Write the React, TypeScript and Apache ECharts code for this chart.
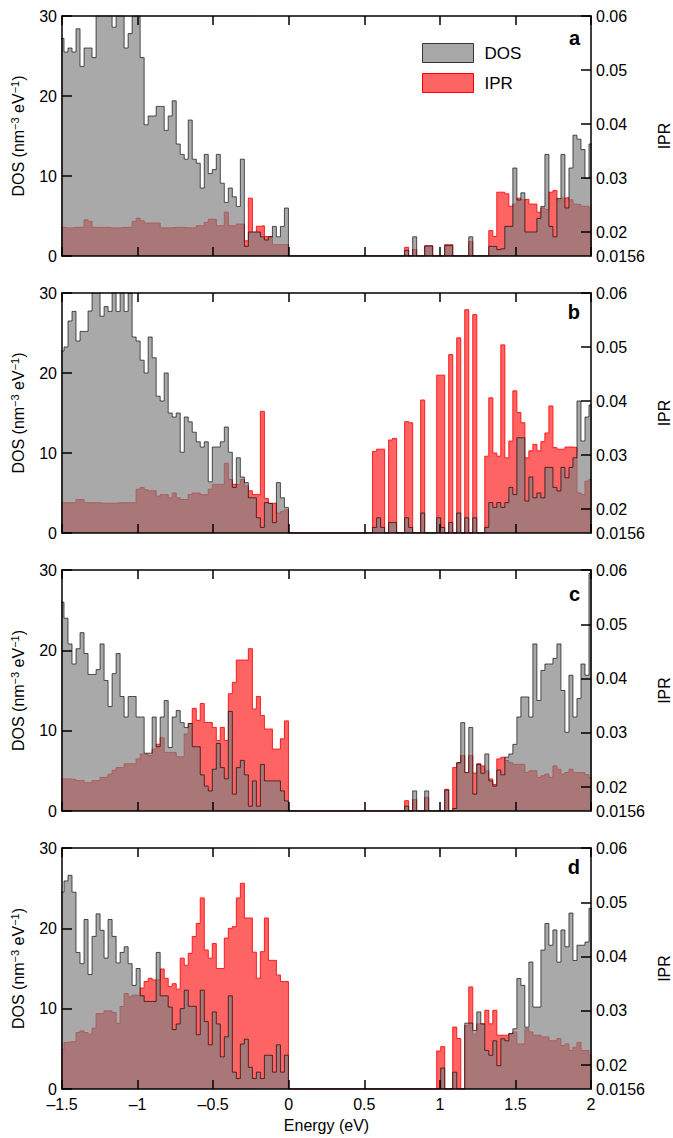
import React, { useEffect, useRef } from 'react';
import * as echarts from 'echarts';

// ---- histogram bin grid (bin centres from -1.5 to 2 eV) ----
const X_MIN = -1.5;
const X_MAX = 2;
const BIN_W = 3.5 / 132;
const VALENCE_BINS = 57; // bins 0..56
const CONDUCTION_START = 78; // bins 78..132
const TOTAL_BINS = 133;

const xTickLabels = ['–1.5', '–1', '–0.5', '0', '0.5', '1', '1.5', '2'];
const iprTickValues = [0.02, 0.03, 0.04, 0.05, 0.06];
const iprLabelValues = [0.0156, 0.02, 0.03, 0.04, 0.05, 0.06];
const panelLabels = ['a', 'b', 'c', 'd'];

// ---- panel a ----
const dosA_val = [27.2, 25.5, 26.0, 25.5, 28.4, 23.7, 26.0, 26.0, 24.8, 32, 33, 33, 31, 28.6, 33, 32, 26.0, 27.8, 30, 31, 24.8, 16.4, 17.5, 17.5, 18.7, 18.7, 15.7, 17.5, 19.4, 14, 12.7, 12.1, 17, 12.1, 11.6, 8.5, 12.7, 10.3, 10.8, 12.7, 9.1, 6.7, 8.5, 7.4, 6.2, 12.1, 1.2, 3.0, 3, 3, 2.4, 2, 2.4, 3.7, 2.4, 3.7, 6];
const iprA_val = [0.0209, 0.0208, 0.0208, 0.0209, 0.0209, 0.0209, 0.0223, 0.0220, 0.0209, 0.0209,
  0.0209, 0.0209, 0.0208, 0.0208, 0.0208, 0.0209, 0.0209, 0.0209, 0.0220, 0.0226,
  0.0221, 0.0217, 0.0217, 0.0217, 0.0217, 0.0208, 0.0208, 0.0208, 0.0209, 0.0209,
  0.0209, 0.0208, 0.0208, 0.0208, 0.0212, 0.0212, 0.0218, 0.0224, 0.0224, 0.0212,
  0.0212, 0.0237, 0.0212, 0.0212, 0.0215, 0.0215, 0.0184, 0.0263, 0.0200, 0.0211,
  0.0212, 0.0192, 0.0192, 0.0177, 0.0177, 0.0177, 0.0177];
const dosA_cond = [0, 0, 0, 0, 0, 0, 0, 0, 0.7, 0, 2.4, 0, 0, 1.25, 1.25, 0, 0, 0, 1.3, 1.3, 0, 0, 0, 0, 2.4, 0, 0, 0, 0, 1.2, 1.2, 0.8, 0.9, 3.7, 3.7, 11, 7, 7.9, 3, 3, 3, 4.7, 6.2, 12.7, 3.7, 2.4, 7.2, 12.7, 6.0, 11, 15.1, 14.6, 13.3, 9.7, 14];
const iprA_cond = [0.0156, 0.0156, 0.0156, 0.0156, 0.0156, 0.0156, 0.0156, 0.0156, 0.0172, 0.0156,
  0.0168, 0.0156, 0.0156, 0.0175, 0.0175, 0.0156, 0.0156, 0.0156, 0.0177, 0.0177,
  0.0156, 0.0156, 0.0156, 0.0156, 0.0183, 0.0156, 0.0156, 0.0156, 0.0156, 0.0203,
  0.0192, 0.0274, 0.0274, 0.0271, 0.0248, 0.0252, 0.0263, 0.0260, 0.0261, 0.0252,
  0.0252, 0.0237, 0.0245, 0.0242, 0.0274, 0.0277, 0.0260, 0.0263, 0.0264, 0.0260,
  0.0252, 0.0251, 0.0248, 0.0248, 0.0245];

// ---- panel b ----
const dosB_val = [22.75, 23.25, 26.5, 27.7, 24, 25.2, 25.2, 27.75, 31, 31,
  27.1, 28.3, 27.7, 31, 27.7, 31, 27.7, 30, 24.5, 24,
  21.6, 20, 24.5, 21.9, 17.1, 16.5, 20, 15, 14.5, 15,
  10.1, 14.5, 13.9, 12.6, 11.4, 10.75, 11.4, 6.4, 10.75, 10.75,
  11.4, 13.25, 10.1, 5.7, 9.4, 7, 6.3, 4.4, 4.4, 1.9,
  0.7, 3.8, 3.7, 1.3, 6.3, 4.4, 3.2];
const iprB_val = [0.0212, 0.0212, 0.0212, 0.0212, 0.0218, 0.0218, 0.0212, 0.0212, 0.0212, 0.0212,
  0.0211, 0.0211, 0.0211, 0.0211, 0.0212, 0.0212, 0.0212, 0.0212, 0.0212, 0.0237,
  0.0240, 0.0236, 0.0234, 0.0234, 0.0224, 0.0227, 0.0227, 0.0221, 0.0230, 0.0221,
  0.0218, 0.0218, 0.0227, 0.0230, 0.0230, 0.0227, 0.0227, 0.0237, 0.0246, 0.0246,
  0.0246, 0.0285, 0.0255, 0.0246, 0.0246, 0.0255, 0.0243, 0.0234, 0.0227, 0.0227,
  0.0381, 0.0220, 0.0211, 0.0211, 0.0193, 0.0196, 0.0199];
const dosB_cond = [0.7, 1.9, 0.7, 0, 1.3, 1.3, 0, 0, 1.9, 0.7,
  0, 0, 2.5, 0, 0, 0, 1.9, 0.7, 0, 1.3,
  0, 2.5, 0, 1.9, 0, 1.9, 0, 0, 0.7, 3.8,
  3.2, 3.8, 3.2, 3.8, 5.7, 4.8, 11.9, 11.9, 4, 7,
  4.4, 5, 4.4, 8.2, 8.2, 5.7, 5.25, 8.2, 6.9, 8.2,
  9.4, 16.5, 11.5, 14.5, 16];
const iprB_cond = [0.0307, 0.0311, 0.0311, 0.0156, 0.0328, 0.0331, 0.0156, 0.0156, 0.0362, 0.0360,
  0.0156, 0.0156, 0.0402, 0.0156, 0.0156, 0.0156, 0.0448, 0.0448, 0.0156, 0.0486,
  0.0156, 0.0517, 0.0156, 0.0569, 0.0156, 0.0560, 0.0156, 0.0156, 0.0298, 0.0406,
  0.0304, 0.0298, 0.0504, 0.0295, 0.0326, 0.0419, 0.0379, 0.0360, 0.0295, 0.0308,
  0.0320, 0.0308, 0.0325, 0.0341, 0.0391, 0.0314, 0.0311, 0.0311, 0.0315, 0.0315,
  0.0314, 0.0230, 0.0227, 0.0252, 0.0255];

// ---- panel c ----
const dosC_val = [26, 24, 20.8, 18.3, 20.2, 22.2, 19.6, 17, 17, 17.6,
  20.8, 16.25, 13, 17.1, 19.6, 14.25, 11.7, 14.25, 14.25, 11.7,
  11.7, 7.2, 7.2, 11.7, 8, 11.7, 13.75, 7.9, 11.7, 12.5,
  11, 10.4, 10.9, 8, 8, 4.5, 3.1, 2.5, 5.2, 8.4,
  5.4, 4, 12.4, 2.1, 5.4, 6.3, 4.5, 0.6, 3.75, 0.6,
  5.8, 3.75, 3.75, 3.75, 3.75, 2.5, 1.25];
const iprC_val = [0.0215, 0.0215, 0.0215, 0.0214, 0.0212, 0.0212, 0.0208, 0.0208, 0.0212, 0.0212,
  0.0218, 0.0218, 0.0224, 0.0231, 0.0236, 0.0236, 0.0243, 0.0243, 0.0243, 0.0252,
  0.0261, 0.0261, 0.0258, 0.0270, 0.0279, 0.0291, 0.0264, 0.0264, 0.0264, 0.0256,
  0.0256, 0.0298, 0.0317, 0.0345, 0.0323, 0.0354, 0.0319, 0.0319, 0.0310, 0.0286,
  0.0310, 0.0286, 0.0372, 0.0393, 0.0434, 0.0434, 0.0434, 0.0455, 0.0344, 0.0367,
  0.0332, 0.0307, 0.0307, 0.0270, 0.0270, 0.0289, 0.0322];
const dosC_cond = [0, 0, 0, 0, 0, 0, 0, 0, 0.6, 0,
  2.5, 0, 0, 2.5, 0, 0, 0, 0, 2.6, 0,
  0.3, 6, 11, 4.8, 10.4, 2.1, 5.8, 4.7, 7.1, 3.75,
  3.1, 5.1, 4.5, 6.7, 7.1, 8.3, 11.7, 14.2, 14.2, 11.7,
  20.8, 13.75, 17.5, 18.3, 18.3, 19, 20.8, 15, 9.8, 16.9,
  11.7, 14, 18.3, 16.9, 29.6];
const iprC_cond = [0.0156, 0.0156, 0.0156, 0.0156, 0.0156, 0.0156, 0.0156, 0.0156, 0.0175, 0.0156,
  0.0177, 0.0156, 0.0156, 0.0181, 0.0156, 0.0156, 0.0156, 0.0156, 0.0196, 0.0156,
  0.0236, 0.0245, 0.0258, 0.0226, 0.0258, 0.0226, 0.0243, 0.0239, 0.0230, 0.0215,
  0.0205, 0.0252, 0.0255, 0.0249, 0.0245, 0.0242, 0.0242, 0.0242, 0.0227, 0.0230,
  0.0230, 0.0218, 0.0221, 0.0224, 0.0218, 0.0239, 0.0233, 0.0224, 0.0227, 0.0233,
  0.0227, 0.0227, 0.0227, 0.0223, 0.0218];

// ---- panel d ----
const dosD_val = [24.5, 25.9, 26.6, 24.5, 17, 15.6, 21.1, 14.25, 19, 21.8,
  19.75, 16.3, 21.1, 19, 15.7, 17, 17.7, 15.6, 12.9, 15,
  11.6, 10.9, 10.9, 10.9, 17, 11.6, 11.6, 10.2, 7.4, 8.1,
  10, 12.3, 10.3, 10.3, 6.75, 12.3, 8.4, 5.5, 9.6, 8.1,
  4, 6.5, 11.6, 2.1, 1.3, 5.6, 6.2, 2.7, 1.3, 2.1,
  1.3, 4.2, 4.2, 2.1, 5.5, 2.1, 4.2];
const iprD_val = [0.0229, 0.0242, 0.0243, 0.0243, 0.0260, 0.0263, 0.0260, 0.0257, 0.0268, 0.0295,
  0.0295, 0.0300, 0.0300, 0.0297, 0.0277, 0.0308, 0.0332, 0.0326, 0.0329, 0.0328,
  0.0342, 0.0354, 0.0360, 0.0357, 0.0357, 0.0377, 0.0360, 0.0345, 0.0350, 0.0340,
  0.0397, 0.0384, 0.0406, 0.0437, 0.0461, 0.0508, 0.0412, 0.0397, 0.0424, 0.0378,
  0.0378, 0.0434, 0.0452, 0.0455, 0.0508, 0.0535, 0.0471, 0.0471, 0.0408, 0.0360,
  0.0409, 0.0471, 0.0393, 0.0393, 0.0366, 0.0354, 0.0354];
const dosD_cond = [0, 0, 0, 0, 0, 0, 0, 0, 0, 0,
  0, 0, 0, 0, 0, 0, 0, 2.6, 0, 0,
  2.1, 0, 0, 8.2, 8.2, 7.3, 9.6, 8.1, 4.8, 4.2,
  6, 2.9, 6.25, 6, 6.9, 7.5, 13.75, 12.9, 7.7, 15.8,
  10.2, 10.2, 17.3, 20.6, 17.9, 19.8, 15.8, 19.8, 17.7, 21.9,
  16, 17.9, 17.9, 18.3, 22.5];
const iprD_cond = [0.0156, 0.0156, 0.0156, 0.0156, 0.0156, 0.0156, 0.0156, 0.0156, 0.0156, 0.0156,
  0.0156, 0.0156, 0.0156, 0.0156, 0.0156, 0.0156, 0.0226, 0.0234, 0.0156, 0.0156,
  0.0270, 0.0249, 0.0156, 0.0273, 0.0344, 0.0257, 0.0276, 0.0276, 0.0301, 0.0276,
  0.0301, 0.0255, 0.0255, 0.0255, 0.0258, 0.0261, 0.0239, 0.0239, 0.0267, 0.0261,
  0.0255, 0.0255, 0.0252, 0.0252, 0.0245, 0.0245, 0.0249, 0.0236, 0.0239, 0.0227,
  0.0233, 0.0242, 0.0227, 0.0227, 0.0218];

const panels = [
  { dosVal: dosA_val, dosCond: dosA_cond, iprVal: iprA_val, iprCond: iprA_cond },
  { dosVal: dosB_val, dosCond: dosB_cond, iprVal: iprB_val, iprCond: iprB_cond },
  { dosVal: dosC_val, dosCond: dosC_cond, iprVal: iprC_val, iprCond: iprC_cond },
  { dosVal: dosD_val, dosCond: dosD_cond, iprVal: iprD_val, iprCond: iprD_cond },
];

const FONT = '"Liberation Sans", Arial, Helvetica, sans-serif';
const FS = 16;
const gridTops = [16, 293, 570, 848];
const gridHeights = [240, 240, 241, 241];
const labelYs = [40, 314, 596, 869];

function fullBins(val: number[], cond: number[], empty: number): number[] {
  const out: number[] = [];
  for (let k = 0; k < TOTAL_BINS; k++) {
    if (k < VALENCE_BINS) out.push(val[k] ?? empty);
    else if (k >= CONDUCTION_START) out.push(cond[k - CONDUCTION_START] ?? empty);
    else out.push(empty);
  }
  return out;
}

// step points at bin left edges, plus closing right edge
function stepPoints(vals: number[]): number[][] {
  const pts: number[][] = vals.map((v, k) => [X_MIN + (k - 0.5) * BIN_W, v]);
  pts.push([X_MIN + (TOTAL_BINS - 0.5) * BIN_W, vals[vals.length - 1]]);
  return pts;
}

function buildOption() {
  const grid: any[] = [];
  const xAxis: any[] = [];
  const yAxis: any[] = [];
  const series: any[] = [];
  const axisLine = { show: true, onZero: false, lineStyle: { color: '#000', width: 1.5 } };
  const tick = (len: number) => ({ show: true, inside: true, length: len, lineStyle: { color: '#000', width: 1.5 } });

  panels.forEach((p, i) => {
    grid.push({ left: 62, width: 529, top: gridTops[i], height: gridHeights[i], containLabel: false, outerBoundsMode: 'none' });
    const last = i === 3;
    xAxis.push({
      gridIndex: i, type: 'value', min: X_MIN, max: X_MAX, interval: 0.5, z: 5,
      axisLine, axisTick: tick(9), splitLine: { show: false },
      axisLabel: {
        show: last, margin: 7, color: '#000', fontSize: FS, fontFamily: FONT,
        formatter: (v: number) => xTickLabels[Math.round((v - X_MIN) / 0.5)] ?? '',
      },
      name: last ? 'Energy (eV)' : '', nameLocation: 'middle', nameGap: 28,
      nameTextStyle: { color: '#000', fontSize: FS, fontFamily: FONT },
    });
    xAxis.push({
      gridIndex: i, type: 'value', position: 'top', min: X_MIN, max: X_MAX, interval: 0.5, z: 5,
      axisLine, axisTick: tick(9), splitLine: { show: false }, axisLabel: { show: false },
    });
    yAxis.push({
      gridIndex: i, type: 'value', position: 'left', min: 0, max: 30, interval: 10, z: 5,
      axisLine, axisTick: tick(10), splitLine: { show: false },
      axisLabel: { color: '#000', fontSize: FS, fontFamily: FONT, margin: 5 },
      name: 'DOS (nm{sup|−3} eV{sup|−1})', nameLocation: 'middle', nameGap: 35, nameRotate: 90,
      nameTextStyle: {
        color: '#000', fontSize: FS, fontFamily: FONT, lineHeight: 18,
        rich: { sup: { fontSize: 11, fontFamily: FONT, color: '#000', verticalAlign: 'top', lineHeight: 18 } },
      },
    });
    yAxis.push({
      gridIndex: i, type: 'value', position: 'right', min: 0.0156, max: 0.06, z: 5,
      axisLine,
      axisTick: { ...tick(10), customValues: iprTickValues },
      splitLine: { show: false },
      axisLabel: {
        color: '#000', fontSize: FS, fontFamily: FONT, margin: 5,
        customValues: iprLabelValues,
        formatter: (v: number) => (Math.abs(v - 0.0156) < 1e-6 ? '0.0156' : v.toFixed(2)),
      },
      name: 'IPR', nameLocation: 'middle', nameGap: 65, nameRotate: 90,
      nameTextStyle: { color: '#000', fontSize: FS, fontFamily: FONT },
    });

    const ipr = fullBins(p.iprVal, p.iprCond, 0.0156);
    const dos = fullBins(p.dosVal, p.dosCond, 0);
    series.push({
      name: 'IPR ' + panelLabels[i], type: 'line', step: 'end', xAxisIndex: 2 * i, yAxisIndex: 2 * i + 1,
      data: stepPoints(ipr), symbol: 'none', showSymbol: false, clip: true,
      lineStyle: { color: '#ff1a1a', width: 1 },
      areaStyle: { color: '#ff6464', opacity: 1, origin: 'start' },
      z: 2,
    });
    series.push({
      name: 'DOS ' + panelLabels[i], type: 'line', step: 'end', xAxisIndex: 2 * i, yAxisIndex: 2 * i,
      data: stepPoints(dos), symbol: 'none', showSymbol: false, clip: true,
      lineStyle: { color: 'rgba(0,0,0,0.65)', width: 1 },
      areaStyle: { color: 'rgba(128,128,128,0.68)', opacity: 1, origin: 'start' },
      z: 3,
    });
  });

  // legend carriers (no data)
  series.push({ name: 'DOS', type: 'bar', xAxisIndex: 0, yAxisIndex: 0, data: [], itemStyle: { color: '#a8a8a8', borderColor: '#333', borderWidth: 1 } });
  series.push({ name: 'IPR', type: 'bar', xAxisIndex: 0, yAxisIndex: 0, data: [], itemStyle: { color: '#ff6464', borderColor: '#ff0000', borderWidth: 1 } });

  return {
    animation: false,
    backgroundColor: '#fff',
    grid, xAxis, yAxis, series,
    legend: {
      show: true, orient: 'vertical', left: 417, top: 38, itemWidth: 51, itemHeight: 19, itemGap: 10,
      selectedMode: false, icon: 'rect',
      textStyle: { color: '#000', fontSize: 17, fontFamily: FONT, padding: [0, 0, 0, 6] },
      data: [
        { name: 'DOS', icon: 'rect', itemStyle: { color: '#a8a8a8', borderColor: '#333', borderWidth: 1 } },
        { name: 'IPR', icon: 'rect', itemStyle: { color: '#ff6464', borderColor: '#ff0000', borderWidth: 1 } },
      ],
    },
    graphic: panelLabels.map((t, i) => ({
      type: 'text', right: 93, top: labelYs[i] - 12, z: 10,
      style: { text: t, fontSize: 20, fontWeight: 'bold', fontFamily: FONT, fill: '#000' },
    })),
  };
}

export default function App() {
  const ref = useRef<HTMLDivElement>(null);
  useEffect(() => {
    if (!ref.current) return;
    const chart = echarts.init(ref.current, undefined, { renderer: 'svg' });
    chart.setOption(buildOption() as any);
    return () => chart.dispose();
  }, []);
  return <div ref={ref} style={{ position: 'absolute', left: 0, top: 0, width: 673, height: 1138 }} />;
}
